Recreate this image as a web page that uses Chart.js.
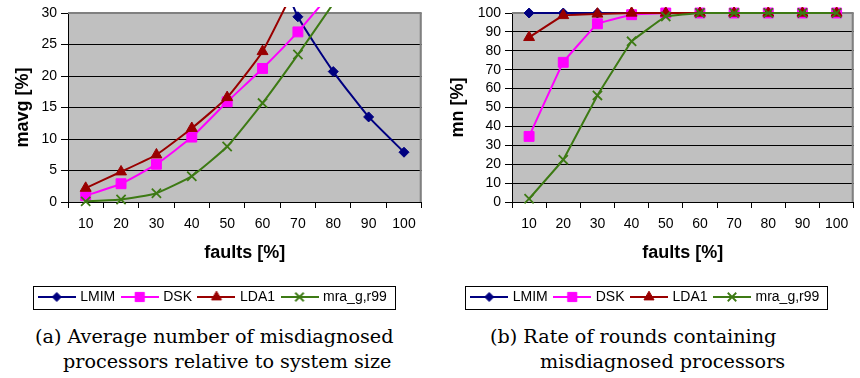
<!DOCTYPE html>
<html lang="en">
  <head>
    <meta charset="utf-8" />
    <title>mavg and mn versus faults</title>
    <style>
      * {
        margin: 0;
        padding: 0;
      }
      body {
        width: 860px;
        height: 378px;
        overflow: hidden;
        background: white;
        position: relative;
      }
      canvas {
        position: absolute;
        top: 0;
      }
      #chartA {
        left: 0;
      }
      #chartB {
        left: 430px;
      }
      .cap {
        position: absolute;
        font-family: "DejaVu Serif", serif;
        font-size: 19.2px;
        line-height: 25px;
        white-space: nowrap;
        color: #000;
      }
    </style>
  </head>
  <body>
    <canvas id="chartA" width="430" height="314"></canvas>
    <canvas id="chartB" width="432" height="314"></canvas>
    <div class="cap" style="left: 35px; top: 324px">(a) Average number of misdiagnosed</div>
    <div class="cap" style="left: 63px; top: 349px">processors relative to system size</div>
    <div class="cap" style="left: 490px; top: 324px">(b) Rate of rounds containing</div>
    <div class="cap" style="left: 540px; top: 349px">misdiagnosed processors</div>

    <script src="https://cdn.jsdelivr.net/npm/chart.js"></script>
    <script>
      const faults = ["10", "20", "30", "40", "50", "60", "70", "80", "90", "100"];
      const seriesNames = ["LMIM", "DSK", "LDA1", "mra_g,r99"];

      // (a) mavg [%]  -- values above 30 run off the top of the plot
      const mavgLMIM = [null, null, null, null, null, 43, 29.4, 20.7, 13.5, 7.9];
      const mavgDSK = [1.0, 2.9, 6.0, 10.3, 15.9, 21.2, 27.0, 33.6, null, null];
      const mavgLDA1 = [2.2, 4.8, 7.5, 11.7, 16.6, 23.9, 35, null, null, null];
      const mavgMra = [0.1, 0.4, 1.4, 4.1, 8.8, 15.7, 23.4, 31.5, null, null];

      // (b) mn [%]
      const mnLMIM = [100, 100, 100, 100, 100, 100, 100, 100, 100, 100];
      const mnDSK = [34.7, 73.9, 94.3, 99.1, 100, 100, 100, 100, 100, 100];
      const mnLDA1 = [87.1, 98.7, 99.5, 100, 100, 100, 100, 100, 100, 100];
      const mnMra = [1.7, 22.4, 56.4, 85.0, 98.2, 100, 100, 100, 100, 100];

      const colors = ["#000080", "#ff00ff", "#990000", "#3d7a14"];
      const shapes = ["rectRot", "rect", "triangle", "crossRot"];
      const radii = [5, 7, 6.3, 6.5];

      Chart.defaults.font.family = "'Liberation Sans', Arial, sans-serif";
      Chart.defaults.color = "#000";

      // little line + marker pictures for the legend
      function swatch(i) {
        const c = document.createElement("canvas");
        c.width = 38;
        c.height = 16;
        const g = c.getContext("2d");
        g.strokeStyle = colors[i];
        g.fillStyle = colors[i];
        g.lineWidth = 2;
        g.beginPath();
        g.moveTo(0, 8);
        g.lineTo(38, 8);
        g.stroke();
        g.lineWidth = i === 3 ? 1.8 : 1;
        Chart.helpers.drawPoint(g, { pointStyle: shapes[i], radius: radii[i] - 0.5, borderWidth: 1 }, 19, 8);
        return c;
      }
      const swatches = seriesNames.map((n, i) => swatch(i));

      const frame = {
        id: "frame",
        beforeDraw(chart) {
          const a = chart.chartArea;
          const ctx = chart.ctx;
          ctx.save();
          ctx.fillStyle = "#c0c0c0";
          ctx.fillRect(a.left, a.top, a.right - a.left, a.bottom - a.top);
          ctx.restore();
        },
        beforeDatasetsDraw(chart) {
          const a = chart.chartArea;
          const ctx = chart.ctx;
          ctx.save();
          ctx.strokeStyle = "#808080";
          ctx.lineWidth = 2;
          ctx.beginPath();
          ctx.moveTo(a.left, a.top);
          ctx.lineTo(a.right - 1, a.top);
          ctx.lineTo(a.right - 1, a.bottom);
          ctx.stroke();
          ctx.restore();
        },
        afterDraw(chart) {
          const hb = chart.legend.legendHitBoxes;
          if (!hb.length) return;
          const l = Math.min(...hb.map((h) => h.left)) - 7.5;
          const r = Math.max(...hb.map((h) => h.left + h.width)) + 8;
          const t = hb[0].top - 4.5;
          const b = hb[0].top + hb[0].height + 4.5;
          const ctx = chart.ctx;
          ctx.save();
          ctx.strokeStyle = "#000";
          ctx.lineWidth = 1;
          ctx.strokeRect(Math.round(l) + 0.5, Math.round(t) + 0.5, Math.round(r - l), Math.round(b - t));
          ctx.restore();
        },
      };

      function makeDatasets(values, yMax, tension) {
        return values.map((v, i) => ({
          label: seriesNames[i],
          data: v,
          borderColor: colors[i],
          backgroundColor: colors[i],
          borderWidth: 2,
          pointStyle: shapes[i],
          pointRadius: (ctx) => (ctx.raw > yMax ? 0 : radii[i]),
          pointHoverRadius: radii[i],
          pointBorderWidth: i === 3 ? 1.8 : 1,
          tension: tension,
          clip: { left: 10, top: 6, right: 10, bottom: 10 },
          order: 4 - i,
        }));
      }

      function makeConfig(values, yMax, step, yTitle, yWidth, titlePad, padRight, tension) {
        return {
          type: "line",
          data: { labels: faults, datasets: makeDatasets(values, yMax, tension) },
          options: {
            responsive: false,
            animation: false,
            devicePixelRatio: 1,
            layout: { padding: { top: 13, left: 0, right: padRight, bottom: 0 } },
            plugins: {
              tooltip: { enabled: false },
              legend: {
                position: "bottom",
                labels: {
                  usePointStyle: true,
                  pointStyleWidth: 33,
                  padding: 8,
                  font: { size: 14 },
                  generateLabels: (chart) =>
                    chart.data.datasets.map((ds, i) => ({
                      text: ds.label,
                      pointStyle: swatches[i],
                      datasetIndex: i,
                      fillStyle: colors[i],
                      strokeStyle: colors[i],
                      lineWidth: 0,
                      hidden: false,
                      fontColor: "#000",
                    })),
                },
              },
            },
            scales: {
              x: {
                offset: true,
                grid: {
                  offset: true,
                  drawOnChartArea: false,
                  color: "#000",
                  tickLength: 6,
                },
                border: { color: "#000", width: 1 },
                ticks: { font: { size: 14 }, padding: 8, maxRotation: 0, autoSkip: false },
                title: {
                  display: true,
                  text: "faults [%]",
                  font: { size: 18, weight: "bold" },
                  padding: { top: 0, bottom: 18 },
                },
                afterFit: (s) => {
                  s.height = 80;
                },
              },
              y: {
                min: 0,
                max: yMax,
                ticks: { stepSize: step, font: { size: 14 }, padding: 4, autoSkip: false },
                grid: {
                  color: (ctx) => (ctx.tick && ctx.tick.value === yMax ? "#808080" : "#000"),
                  tickColor: "#000",
                  tickLength: 7,
                },
                border: { color: "#000", width: 1 },
                title: {
                  display: true,
                  text: yTitle,
                  font: { size: 18, weight: "bold" },
                  padding: { top: titlePad, bottom: 0 },
                },
                afterFit: (s) => {
                  s.width = yWidth;
                },
              },
            },
          },
          plugins: [frame],
        };
      }

      new Chart(
        document.getElementById("chartA"),
        makeConfig([mavgLMIM, mavgDSK, mavgLDA1, mavgMra], 30, 5, "mavg [%]", 68, 12, 3, 0.15)
      );
      new Chart(
        document.getElementById("chartB"),
        makeConfig([mnLMIM, mnDSK, mnLDA1, mnMra], 100, 10, "mn [%]", 82, 17, 0, 0.05)
      );
    </script>
  </body>
</html>
